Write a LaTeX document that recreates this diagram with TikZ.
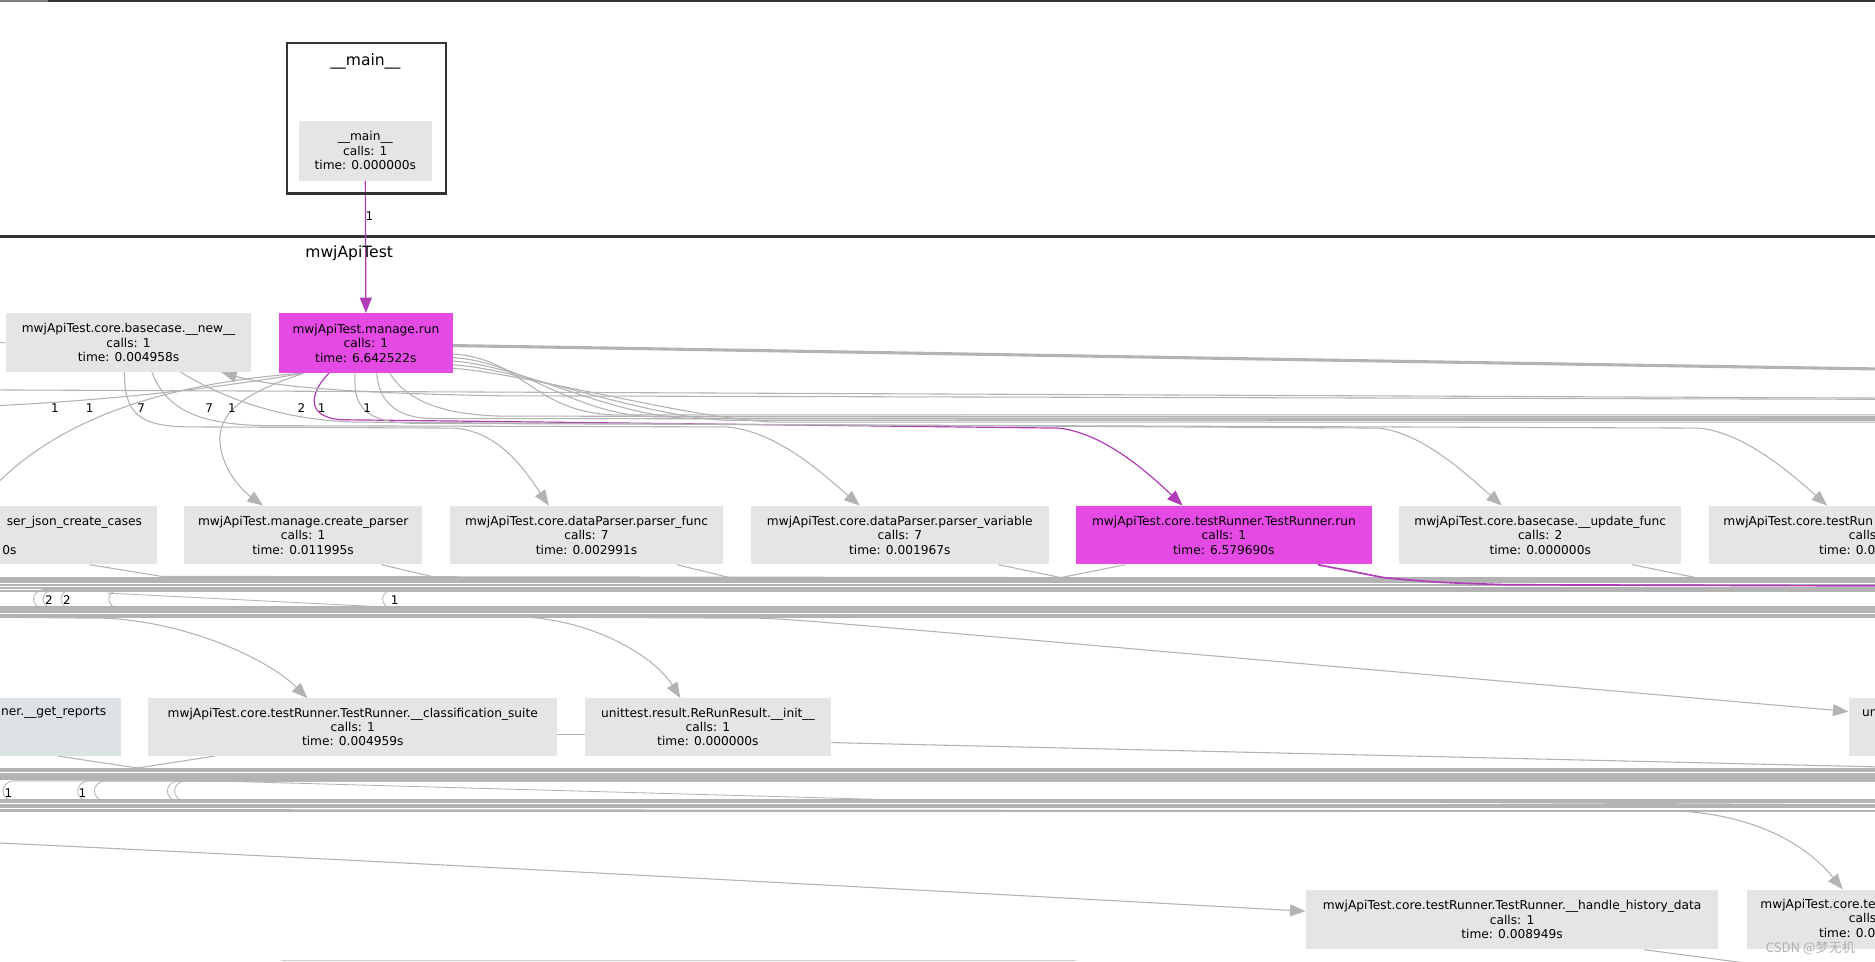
\documentclass[tikz,border=0pt]{standalone}
\usepackage{fontspec}
\setmainfont{DejaVu Sans}
\newfontfamily\cjkfont{Noto Sans CJK SC}
\usetikzlibrary{arrows.meta}
\pgfdeclarelayer{background}
\pgfsetlayers{background,main}
\definecolor{ng}{HTML}{E5E5E5}
\definecolor{mg}{HTML}{E54AE5}
\definecolor{bgc}{HTML}{DDE3E5}
\definecolor{eg}{HTML}{B3B3B3}
\definecolor{pu}{HTML}{B23CB8}
\definecolor{cl}{HTML}{333333}
\definecolor{wmc}{HTML}{B0B0B0}
\begin{document}
\begin{tikzpicture}[x=1pt,y=-1pt,
  fn/.style={fill=ng,inner sep=0pt,align=center,font=\fontsize{10.2}{12}\selectfont},
  hot/.style={fn,fill=mg},
  txt/.style={inner sep=0pt,font=\fontsize{10.2}{12}\selectfont},
  e/.style={draw=eg,line width=0.9pt},
  pe/.style={draw=pu,line width=1pt},
  ar/.style={-{Triangle[length=13pt,width=10pt]}},
  lab/.style={inner sep=0pt,font=\fontsize{10}{10}\selectfont},
  band/.style={draw=eg,line width=1.8pt},
  loopl/.style={draw=eg,line width=0.7pt},
  ttl/.style={inner sep=0pt,font=\fontsize{13}{13}\selectfont},
]
\useasboundingbox (0,0) rectangle (1568,804);
\clip (0,0) rectangle (1568,804);

% ---------- clusters ----------
\node[draw=cl,line width=2.2pt,minimum width=133pt,minimum height=126pt,inner sep=0pt] (clmain) at (306.5,99) {};
\node[ttl] (tmain) at (305.5,51.5) {\_\_main\_\_};
\node[ttl] (tpkg) at (292,211.5) {mwjApiTest};

% ---------- nodes ----------
\node[fn,minimum width=111pt,minimum height=50pt] (mainN) at (305.5,126) {\_\_main\_\_\\calls: 1\\time: 0.000000s};

\node[fn,minimum width=205pt,minimum height=49pt] (new) at (107.5,286.5) {mwjApiTest.core.basecase.\_\_new\_\_\\calls: 1\\time: 0.004958s};
\node[hot,minimum width=145pt,minimum height=50pt] (run) at (306,287) {mwjApiTest.manage.run\\calls: 1\\time: 6.642522s};

\node[fn,minimum width=301pt,minimum height=49pt] (json) at (-19.5,447.5) {};
\node[txt,align=right,anchor=east] (jsontxt) at (119,447.5) {ser\_json\_create\_cases\\\mbox{}\\0s\rule{105pt}{0pt}};
\node[fn,minimum width=199pt,minimum height=49pt] (cp) at (253.5,447.5) {mwjApiTest.manage.create\_parser\\calls: 1\\time: 0.011995s};
\node[fn,minimum width=229pt,minimum height=49pt] (pf) at (490.5,447.5) {mwjApiTest.core.dataParser.parser\_func\\calls: 7\\time: 0.002991s};
\node[fn,minimum width=249pt,minimum height=49pt] (pv) at (752.5,447.5) {mwjApiTest.core.dataParser.parser\_variable\\calls: 7\\time: 0.001967s};
\node[hot,minimum width=247pt,minimum height=49pt] (trr) at (1023.5,447.5) {mwjApiTest.core.testRunner.TestRunner.run\\calls: 1\\time: 6.579690s};
\node[fn,minimum width=236pt,minimum height=49pt] (uf) at (1288,447.5) {mwjApiTest.core.basecase.\_\_update\_func\\calls: 2\\time: 0.000000s};
\node[fn,minimum width=271pt,minimum height=49pt] (trx) at (1564.5,447.5) {};
\node[txt,align=left,anchor=west] (trxtxt) at (1441,447.5) {mwjApiTest.core.testRun\\\rule{105pt}{0pt}calls\\\rule{80pt}{0pt}time: 0.0};

\node[fn,fill=bgc,minimum width=301pt,minimum height=48pt] (gr) at (-49.5,608) {};
\node[txt,anchor=east] (grtxt) at (89,596) {ner.\_\_get\_reports};
\node[fn,minimum width=342pt,minimum height=48pt] (cs) at (295,608) {mwjApiTest.core.testRunner.TestRunner.\_\_classification\_suite\\calls: 1\\time: 0.004959s};
\node[fn,minimum width=206pt,minimum height=48pt] (rri) at (592,608) {unittest.result.ReRunResult.\_\_init\_\_\\calls: 1\\time: 0.000000s};
\node[fn,minimum width=100pt,minimum height=48pt] (un) at (1596,608) {};
\node[txt,anchor=west] (untxt) at (1557,596) {un};

\node[fn,minimum width=345pt,minimum height=50pt] (hh) at (1264.5,769) {mwjApiTest.core.testRunner.TestRunner.\_\_handle\_history\_data\\calls: 1\\time: 0.008949s};
\node[fn,minimum width=209pt,minimum height=50pt] (te) at (1565.5,769) {};
\node[txt,align=left,anchor=west] (tetxt) at (1472,768) {mwjApiTest.core.te\\\rule{74pt}{0pt}calls\\\rule{49pt}{0pt}time: 0.0};

% ---------- edge labels ----------
\node[lab] (lm) at (309,181) {1};
\foreach \x/\t [count=\i] in {46/1,75/1,118/7,175/7,194/1,252/2,269/1,307/1}
  \node[lab] (la\i) at (\x,341) {\t};
\node[lab] (lb1) at (41,502) {2};
\node[lab] (lb2) at (56,502) {2};
\node[lab] (lb3) at (330,502) {1};
\node[lab] (lc1) at (7,663) {1};
\node[lab] (lc2) at (69,663) {1};

\node[font=\cjkfont\fontsize{11}{11}\selectfont,text=wmc,inner sep=0pt] (wm) at (1514,793) {CSDN @梦无机};

% ---------- connectors (behind nodes) ----------
\begin{pgfonlayer}{background}
\clip (0,0) rectangle (1568,804);
\fill[white] (0,0) rectangle (1568,804);
\coordinate (tl0) at (0,0.9); \coordinate (tl1) at (40,0.9); \coordinate (tl2) at (1568,0.9);
\draw[gray,line width=2pt] (tl0) -- (tl1);
\draw[cl,line width=2.2pt] (tl1) -- (tl2);
\coordinate (sp0) at (0,197.5); \coordinate (sp1) at (1568,197.5);
\draw[cl,line width=2.5pt] (sp0) -- (sp1);

% main -> run
\draw[pe,ar] (mainN.south) -- (run.north);

% run: thick line to the right
\coordinate (Rt) at (1600,309);
\draw[e,line width=2.6pt] ([yshift=-2pt]run.east) .. controls (700,294) and (1200,303) .. (Rt);

% fan from run's right side into the bundle
\foreach \d/\x/\ee in {9/515/347,12/547/348.5,15/579/350,18/610/351.5,21/649/353} {
  \coordinate (fr\d) at (1600,\ee);
  \draw[e] ([yshift=-\d pt]run.east) .. controls +(60,4) and (\x-70,\ee-2) .. (\x,\ee) -- (fr\d);
}
\coordinate (fb1) at (1600,351);
\coordinate (fb2) at (1600,349);
\draw[e] ([xshift=9pt]run.south) .. controls (317,335) and (330,349) .. (360,350) -- (fb1);
\draw[e] ([xshift=20pt]run.south) .. controls (340,335) and (370,347) .. (420,348) -- (fb2);

% run -> TestRunner.run (hot path)
\draw[pe,ar] ([xshift=-31pt]run.south) .. controls (262,325) and (252,348) .. (285,351) -- (885,358) .. controls (925,362) and (965,400) .. ([xshift=-34.5pt]trr.north);
% run -> right testRunner node
\draw[e,ar] ([xshift=-9pt]run.south) .. controls (295,340) and (305,353) .. (345,354) -- (1421,358) .. controls (1460,362) and (1500,398) .. ([xshift=-36.5pt]trx.north);
% __new__ -> __update_func
\draw[e,ar] ([xshift=43.5pt]new.south) .. controls (190,335) and (240,352) .. (300,353) -- (1153,358) .. controls (1190,362) and (1228,398) .. ([xshift=-32pt]uf.north);
% __new__ -> parser_func
\draw[e,ar] ([xshift=-3.5pt]new.south) .. controls (104,345) and (115,357) .. (160,357) -- (380,358) .. controls (420,361) and (442,398) .. ([xshift=-31.5pt]pf.north);
% __new__ -> parser_variable
\draw[e,ar] ([xshift=19.5pt]new.south) .. controls (140,345) and (170,356) .. (230,356) -- (607,357) .. controls (650,360) and (690,398) .. ([xshift=-33.5pt]pv.north);
% run -> create_parser
\draw[e,ar] ([xshift=-52pt]run.south) .. controls (205,328) and (182,345) .. (184,370) .. controls (186,395) and (205,412) .. ([xshift=-33.5pt]cp.north);
% run -> json
\draw[e,ar] ([xshift=-55pt]run.south) .. controls (150,320) and (50,345) .. (json.north);
% run -> off left
\coordinate (Ll) at (-20,340);
\draw[e] ([xshift=-53pt]run.south) .. controls (180,325) and (80,336) .. (Ll);
% off right -> __new__
\coordinate (Rn) at (1600,334);
\draw[e,ar] (Rn) -- (420,331) .. controls (300,329) and (230,324) .. ([xshift=77.5pt]new.south);
% long horizontal
\coordinate (Lh1) at (-20,326); \coordinate (Rh1) at (1600,333);
\draw[e] (Lh1) -- (Rh1);
\coordinate (Lw) at (-20,287);
\draw[e] (Lw) -- (new.west);

% ---------- row 2 outgoing + bundles ----------
\coordinate (r2a) at (1600,484);
\coordinate (r2b) at (1600,485);
\coordinate (r2c) at (1600,486);
\coordinate (r2d) at (1600,487);
\coordinate (r2e) at (1600,485.5);
\coordinate (r2p) at (1600,490);
\draw[e] ([xshift=94.5pt]json.south) -- (135,482) -- (r2a);
\draw[e] ([xshift=65.5pt]cp.south) -- (365,483) -- (r2b);
\draw[e] ([xshift=75.5pt]pf.south) -- (610,483) -- (r2c);
\draw[e] ([xshift=82.5pt]pv.south) -- (887,483) -- (r2d);
\draw[e] ([xshift=-82.5pt]trr.south) -- (887,483);
\draw[e] ([xshift=77pt]uf.south) -- (1418,483) -- (r2e);

\foreach \y in {483,485,487,489,492,494} {
  \coordinate (bl\y) at (-20,\y); \coordinate (br\y) at (1600,\y);
  \draw[band] (bl\y) -- (br\y);
}
\draw[pe,line width=1.4pt] ([xshift=78.5pt]trr.south) -- (1157,483) .. controls (1200,487) .. (1260,489) -- (r2p);
\foreach \y in {508,510,512,514,516} {
  \coordinate (ca\y) at (-20,\y); \coordinate (cb\y) at (1600,\y);
  \draw[band] (ca\y) -- (cb\y);
}
% loops between the bundles
\foreach \x [count=\i] in {27,35,50,90,319} {
  \coordinate (lpa\i) at (1600,493); \coordinate (lpb\i) at (1600,509);
  \draw[loopl] (lpa\i) -- (\x+10,493) .. controls (\x-2,494) and (\x-2,508) .. (\x+10,509) -- (lpb\i);
}
\coordinate (dg1) at (1600,511);
\draw[e,line width=0.7pt] (90,496) -- (330,508) -- (dg1);

% row 3 incoming
\coordinate (Lc) at (-20,516);
\draw[e,ar] (Lc) -- (90,517) .. controls (160,521) and (225,552) .. ([xshift=-38pt]cs.north);
\coordinate (Lr) at (-20,515);
\draw[e,ar] (Lr) -- (440,516) .. controls (500,520) and (548,550) .. ([xshift=-23pt]rri.north);
\coordinate (Lu) at (-20,514);
\draw[e,ar] (Lu) -- (640,517) .. controls (690,520) .. ([yshift=13pt]un.west);

% row 3 outgoing
\draw[e] ([yshift=-6pt]cs.east) -- ([yshift=-6pt]rri.west);
\coordinate (Rri) at (1600,642);
\draw[e] ([yshift=-13pt]rri.east) -- (Rri);
\coordinate (Rg) at (1600,645);
\coordinate (Lg) at (-20,645);
\draw[e] ([xshift=97.5pt]gr.south) -- (120,643) -- (Rg);
\draw[e] ([xshift=-115pt]cs.south) -- (110,643) -- (Lg);

\foreach \y in {643,645,647,649,651} {
  \coordinate (dl\y) at (-20,\y); \coordinate (dr\y) at (1600,\y);
  \draw[band] (dl\y) -- (dr\y);
}
\foreach \y in {669,671,673,675,678} {
  \coordinate (el\y) at (-20,\y); \coordinate (er\y) at (1600,\y);
  \draw[band] (el\y) -- (er\y);
}
\foreach \x [count=\i] in {1.5,64,78,139,145} {
  \coordinate (lqa\i) at (1600,653); \coordinate (lqb\i) at (1600,670);
  \draw[loopl] (lqa\i) -- (\x+10,653) .. controls (\x-2,654) and (\x-2,669) .. (\x+10,670) -- (lqb\i);
}
\coordinate (dg2) at (1600,673);
\draw[e,line width=0.7pt] (140,652) -- (753,669) -- (dg2);

% row 4 incoming
\coordinate (Lhh) at (-20,704);
\draw[e,ar] (Lhh) .. controls (400,724) and (800,746) .. ([yshift=7pt]hh.west);
\coordinate (Lte) at (-20,677);
\draw[e,ar] (Lte) -- (1400,678) .. controls (1470,681) and (1512,708) .. ([xshift=-24.5pt]te.north);
\coordinate (Rb) at (1480,808);
\draw[e] ([xshift=110.5pt]hh.south) -- (Rb);
\coordinate (bb1) at (235,803.5); \coordinate (bb2) at (900,803.5);
\draw[draw=eg!60,line width=0.8pt] (bb1) -- (bb2);
\end{pgfonlayer}
\end{tikzpicture}
\end{document}
